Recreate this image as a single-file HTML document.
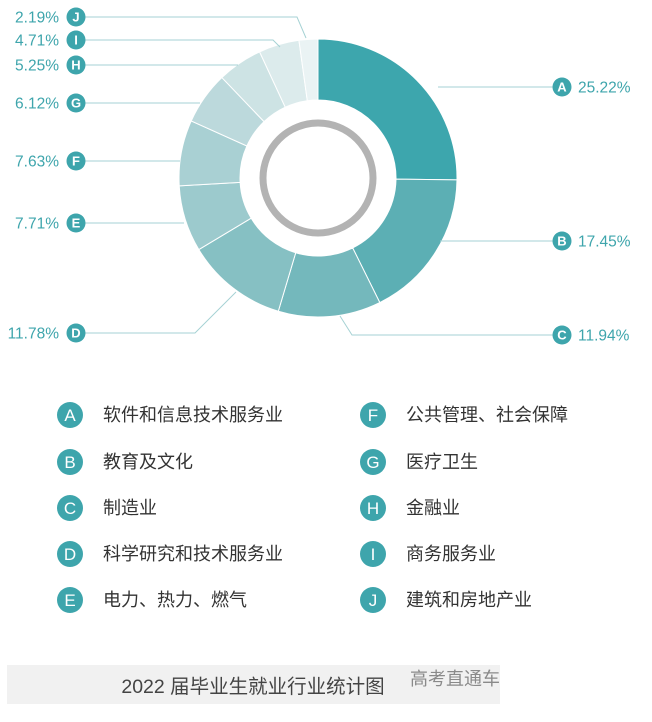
<!DOCTYPE html>
<html><head><meta charset="utf-8"><style>
body{margin:0;background:#fff;width:652px;height:717px;overflow:hidden;font-family:"Liberation Sans","Noto Sans CJK SC",sans-serif}
</style></head><body>
<svg id="s" width="652" height="717" xmlns="http://www.w3.org/2000/svg" font-family="Liberation Sans, Noto Sans CJK SC, sans-serif">
<rect x="7" y="665" width="493" height="39" fill="#f1f1f1"/>
<text x="253" y="693" font-size="19.5" fill="#444" text-anchor="middle">2022 届毕业生就业行业统计图</text>
<text x="455" y="685" font-size="18" fill="#8a8a8a" text-anchor="middle">高考直通车</text>
<g id="pie"></g>
<circle cx="318" cy="178" r="55" fill="none" stroke="#b3b3b3" stroke-width="7"/>
<g id="lab"></g>
</svg>
<script>
var cx=318,cy=178,R=139,r=78;
var v=[25.22,17.45,11.94,11.78,7.71,7.63,6.12,5.25,4.71,2.19];
var c=["#3da6ad","#5cafb4","#74b8bc","#86c0c3","#9ccacd","#a9d0d3","#bcd9dc","#cde3e4","#dcebec","#eaf3f4"];
var L="ABCDEFGHIJ",h="",a=0;
function p(rad,ang){return [cx+rad*Math.sin(ang),cy-rad*Math.cos(ang)];}
for(var i=0;i<10;i++){var a0=a*2*Math.PI/100;a+=v[i];var a1=a*2*Math.PI/100;var lg=(a1-a0)>Math.PI?1:0;
var p1=p(R,a0),p2=p(R,a1),p3=p(r,a1),p4=p(r,a0);
h+='<path d="M'+p1+' A'+R+','+R+' 0 '+lg+' 1 '+p2+' L'+p3+' A'+r+','+r+' 0 '+lg+' 0 '+p4+'Z" fill="'+c[i]+'" stroke="#fff" stroke-width="1"/>';}
document.getElementById('pie').innerHTML=h;
var t="";var lc="#a6d2d4";
var right=[["A",87,"25.22%",[[455,87],[438,87]]],["B",241,"17.45%",[[440,241]]],["C",335,"11.94%",[[352,335],[340,316]]]];
var left=[["J",17,"2.19%",[[297,17],[306,38]]],["I",40,"4.71%",[[273,40],[280,47]]],["H",65,"5.25%",[[238,65]]],["G",103,"6.12%",[[200,103]]],["F",161,"7.63%",[[180,161]]],["E",223,"7.71%",[[184,223]]],["D",333,"11.78%",[[195,333],[236,292]]]];
function circ(x,y,l,rr,fs,w){return '<circle cx="'+x+'" cy="'+y+'" r="'+rr+'" fill="#3ea5ac"/><text x="'+x+'" y="'+(y+fs*0.36)+'" font-size="'+fs+'" fill="#fff" text-anchor="middle" font-weight="'+w+'">'+l+'</text>';}
right.forEach(function(d){var pts=[[556,d[1]]].concat(d[3]);t+='<polyline points="'+pts.join(' ')+'" fill="none" stroke="'+lc+'" stroke-width="1"/>';t+=circ(562,d[1],d[0],9.5,13,"bold");t+='<text x="578" y="'+(d[1]+5.5)+'" font-size="15.5" fill="#3ea5ac">'+d[2]+'</text>';});
left.forEach(function(d){var pts=[[84,d[1]]].concat(d[3]);t+='<polyline points="'+pts.join(' ')+'" fill="none" stroke="'+lc+'" stroke-width="1"/>';t+=circ(76,d[1],d[0],9.5,13,"bold");t+='<text x="59" y="'+(d[1]+5.5)+'" font-size="15.5" fill="#3ea5ac" text-anchor="end">'+d[2]+'</text>';});
var names=["软件和信息技术服务业","教育及文化","制造业","科学研究和技术服务业","电力、热力、燃气","公共管理、社会保障","医疗卫生","金融业","商务服务业","建筑和房地产业"];
var ys=[415,462,508,554,600];
for(var i=0;i<10;i++){var col=i<5?0:1,y=ys[i%5],x=col?373:70;t+=circ(x,y,L[i],13,17,"normal");t+='<text x="'+(x+33)+'" y="'+(y+6)+'" font-size="18" fill="#333">'+names[i]+'</text>';}
document.getElementById('lab').innerHTML=t;
</script>
</body></html>
